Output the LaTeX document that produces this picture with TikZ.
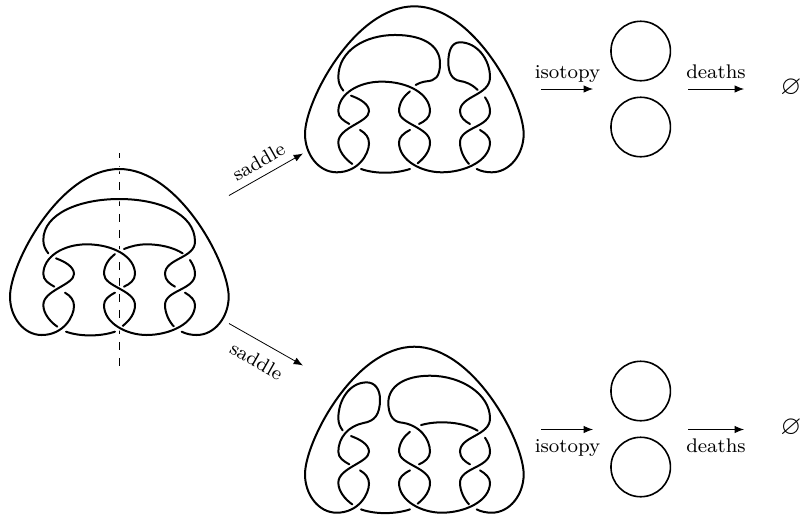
\documentclass[tikz,border=0pt]{standalone}
\usepackage{tikz}
\usepackage{amssymb}
\usetikzlibrary{calc}
\usetikzlibrary{arrows.meta}
\tikzset{
	strand/.style={line width=1.5pt,line cap=round},
	pijl/.style={-{Latex[length=7pt,width=5.5pt]},line width=0.6pt},
	lus/.style={circle,draw,line width=1.2pt,inner sep=0pt,minimum size=44.6pt},
	tekst/.style={inner sep=0pt,font=\footnotesize,scale=1.85}
}
% the parts of the diagram every knot has
\newcommand\knotCommon{
	\draw[strand] (168,325) .. controls (195,335) and (222,350) .. (222,372) .. controls (222,405) and (130,420) .. (130,465) .. controls (130,490) and (150,515) .. (172,530);
	\draw[strand] (195,428) .. controls (212,438) and (222,450) .. (222,468) .. controls (222,500) and (190,555) .. (125,555) .. controls (70,555) and (30,500) .. (30,440) .. controls (30,340) and (180,57) .. (358,57) .. controls (536,57) and (686,340) .. (686,440) .. controls (686,500) and (645,555) .. (590,555) .. controls (575,555) and (558,552) .. (545,545);
	\draw[strand] (368,528) .. controls (390,510) and (405,490) .. (405,465) .. controls (405,420) and (312,410) .. (312,372) .. controls (312,345) and (328,325) .. (345,312);
	\draw[strand] (570,330) .. controls (580,345) and (585,358) .. (585,372) .. controls (585,420) and (495,420) .. (495,465) .. controls (495,490) and (508,515) .. (522,530);
	\draw[strand] (198,545) .. controls (240,560) and (300,560) .. (345,545);
	\draw[strand] (345,428) .. controls (325,438) and (312,450) .. (312,465) .. controls (312,520) and (380,555) .. (440,555) .. controls (510,555) and (585,520) .. (585,465) .. controls (585,450) and (572,438) .. (555,428);
}
\begin{document}
\begin{tikzpicture}[x=0.75pt,y=-0.75pt]
	\useasboundingbox (0,0) rectangle (800,519);

	% knot with the axis
	\coordinate (as1) at (119,153.3);
	\coordinate (as2) at (119,366);
	\draw[dash pattern=on 6pt off 6pt,dash phase=2.5pt,line width=0.6pt] (as1) -- (as2);
	\begin{scope}[shift={(0,150)},x=0.25pt,y=-0.25pt,strand/.append style={preaction={draw,white,line width=3.5pt}}]
		\knotCommon
		\draw[strand] (163,410) .. controls (145,400) and (130,390) .. (130,372) .. controls (130,320) and (190,283) .. (260,283) .. controls (340,283) and (405,320) .. (405,372) .. controls (405,390) and (390,402) .. (372,410);
		\draw[strand] (145,310) .. controls (135,298) and (130,285) .. (130,270) .. controls (130,190) and (240,147) .. (358,147) .. controls (476,147) and (585,190) .. (585,275) .. controls (585,325) and (495,325) .. (495,372) .. controls (495,390) and (510,402) .. (525,410);
		\draw[strand] (372,297) .. controls (395,288) and (415,283) .. (440,283) .. controls (480,283) and (520,292) .. (548,310);
	\end{scope}

	% upper saddle
	\begin{scope}[shift={(295,-12.7)},x=0.25pt,y=-0.25pt]
		\knotCommon
		\draw[strand] (163,410) .. controls (145,400) and (130,390) .. (130,372) .. controls (130,320) and (190,283) .. (260,283) .. controls (340,283) and (405,320) .. (405,372) .. controls (405,390) and (390,402) .. (372,410);
		\draw[strand] (145,310) .. controls (135,298) and (130,285) .. (130,270) .. controls (130,190) and (210,143) .. (300,143) .. controls (385,143) and (435,175) .. (435,228) .. controls (435,270) and (420,280) .. (395,282) .. controls (385,283) and (372,287) .. (362,293);
		\draw[strand] (548,308) .. controls (530,290) and (510,283) .. (495,281) .. controls (470,277) and (460,255) .. (460,225) .. controls (460,190) and (470,165) .. (495,165) .. controls (545,165) and (585,215) .. (585,270) .. controls (585,325) and (495,325) .. (495,372) .. controls (495,390) and (510,402) .. (525,410);
	\end{scope}

	% lower saddle
	\begin{scope}[shift={(295,327.7)},x=0.25pt,y=-0.25pt]
		\knotCommon
		\draw[strand] (163,410) .. controls (145,400) and (130,390) .. (130,372) .. controls (130,330) and (160,295) .. (205,286) .. controls (240,280) and (255,260) .. (255,215) .. controls (255,185) and (240,164) .. (215,164) .. controls (165,164) and (130,215) .. (130,272) .. controls (130,285) and (135,298) .. (143,308);
		\draw[strand] (372,410) .. controls (390,402) and (405,390) .. (405,372) .. controls (405,335) and (375,290) .. (315,284) .. controls (290,280) and (280,255) .. (280,225) .. controls (280,175) and (330,144) .. (405,144) .. controls (500,144) and (585,200) .. (585,272) .. controls (585,325) and (495,325) .. (495,372) .. controls (495,390) and (510,402) .. (525,410);
		\draw[strand] (378,292) .. controls (400,286) and (425,283) .. (450,284) .. controls (490,285) and (525,295) .. (548,309);
	\end{scope}

	% arrows and labels
	\coordinate (lo) at (229,195.5);
	\coordinate (lb) at (303,153.5);
	\coordinate (ro) at (229,323.5);
	\coordinate (rb) at (303,365.5);
	\draw[pijl] (lo) -- (lb) node[tekst,midway,above=3pt,sloped] (s1) {saddle};
	\draw[pijl] (ro) -- (rb) node[tekst,midway,below=4.5pt,sloped] (s2) {saddle};

	\coordinate (a1) at (541,89);
	\coordinate (a2) at (593,89);
	\coordinate (a3) at (688,89);
	\coordinate (a4) at (744,89);
	\coordinate (b1) at (541,429.5);
	\coordinate (b2) at (593,429.5);
	\coordinate (b3) at (688,429.5);
	\coordinate (b4) at (744,429.5);
	\node[tekst,anchor=base] (i1) at (567.5,78) {isotopy};
	\node[tekst,anchor=base] (d1) at (716,78) {deaths};
	\node[tekst,anchor=base] (i2) at (567.5,452) {isotopy};
	\node[tekst,anchor=base] (d2) at (716,452) {deaths};
	\draw[pijl] (a1) -- (a2);
	\draw[pijl] (a3) -- (a4);
	\draw[pijl] (b1) -- (b2);
	\draw[pijl] (b3) -- (b4);

	\node[lus] (c1) at (640.7,51) {};
	\node[lus] (c2) at (640.7,127) {};
	\node[lus] (c3) at (640.7,391) {};
	\node[lus] (c4) at (640.7,467) {};

	\node[inner sep=0pt,font=\fontsize{20}{22}\selectfont] (e1) at (791,88) {$\varnothing$};
	\node[inner sep=0pt,font=\fontsize{20}{22}\selectfont] (e2) at (791,428) {$\varnothing$};
\end{tikzpicture}
\end{document}
